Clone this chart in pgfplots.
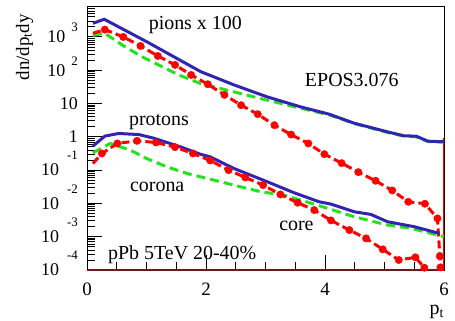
\documentclass[border=0pt]{standalone}
\usepackage{fontspec}
\setmainfont{Liberation Serif}
\usepackage{pgfplots}
\pgfplotsset{compat=1.18}
\definecolor{myblue}{RGB}{50,36,178}
\definecolor{mygreen}{RGB}{40,225,30}
\definecolor{myred}{RGB}{255,0,0}
\definecolor{axred}{RGB}{110,25,25}
\newcommand{\pex}[1]{10\hspace{6bp}\smash{\raisebox{11bp}{\fontsize{13}{13}\selectfont #1}}}
\newcommand{\nex}[1]{10\hspace{8bp}\smash{\raisebox{16bp}{\fontsize{13}{13}\selectfont #1}}\hspace{1bp}}

\begin{document}
\fontsize{20}{24}\selectfont
\begin{tikzpicture}
\useasboundingbox (-87bp,-51bp) rectangle (368bp,270bp);
\begin{axis}[
  at={(0,0)}, anchor=south west,
  scale only axis, width=357bp, height=264bp,
  ymode=log, xmin=0, xmax=6, ymin=1e-4, ymax=8500,
  font=\fontsize{20}{24}\selectfont,
  axis line style={line width=0.9bp},
  every tick/.style={black, line width=0.9bp},
  xtick pos=bottom, ytick pos=left,
  tick align=inside,
  xtick={0,2,4,6}, minor x tick num=3,
  ytick={1e-4,1e-3,1e-2,1e-1,1,10,100,1000},
  yticklabels={\nex{-4},\nex{-3},\nex{-2},\nex{-1},1\hspace{15bp},10\hspace{18bp},\pex{2},\pex{3}},
  minor ytick={2e-4,3e-4,4e-4,5e-4,6e-4,7e-4,8e-4,9e-4,
               2e-3,3e-3,4e-3,5e-3,6e-3,7e-3,8e-3,9e-3,
               2e-2,3e-2,4e-2,5e-2,6e-2,7e-2,8e-2,9e-2,
               0.2,0.3,0.4,0.5,0.6,0.7,0.8,0.9,
               2,3,4,5,6,7,8,9,
               20,30,40,50,60,70,80,90,
               200,300,400,500,600,700,800,900,
               2000,3000,4000,5000,6000,7000,8000},
  major tick length=15bp, minor tick length=8bp,
  yticklabel style={anchor=east, inner sep=0pt, xshift=-9bp, font=\fontsize{18}{20}\selectfont},
  xticklabel style={yshift=-6bp, font=\fontsize{19}{22}\selectfont},
  /pgf/number format/assume math mode=true,
  ylabel={dn/dp\textsubscript{t}dy},
  ylabel style={at={(axis description cs:-0.175,0.995)}, anchor=east, rotate=0, font=\fontsize{19}{22}\selectfont},
  xlabel={p\textsubscript{t}},
  xlabel style={at={(axis description cs:0.98,-0.16)}, anchor=center},
  clip=true,
]
% bottom line (red curves at zero)
\addplot[axred, line width=1.2bp] coordinates {(0,1e-4)(6,1e-4)};
% last bin edge of the core spectrum
\addplot[myred, line width=1.5bp] coordinates {(6.0,1e-6)(6.0,0.9)};

% ---- pions x100 ----
\addplot[mygreen, line width=3bp, dash pattern=on 9bp off 5bp] coordinates {
(0.1,1122)(0.3,1288)(0.6,562)(0.92,257)(1.54,72.4)(1.91,39.8)(2.47,22.4)(3.03,12.6)
(3.59,7.24)(4.07,4.57)(4.49,2.51)(5.05,1.35)(5.33,1.05)(5.53,1.0)(5.73,0.72)(6.0,0.69)};
\addplot[myblue, line width=3bp] coordinates {
(0.1,2570)(0.29,3390)(1.0,724)(1.91,91)(2.47,36.3)(3.03,15.8)(3.59,7.94)(4.07,4.79)
(4.49,2.57)(5.05,1.41)(5.33,1.07)(5.53,1.05)(5.73,0.74)(6.0,0.71)};
\addplot[myred, line width=3bp, dash pattern=on 8bp off 4bp] coordinates {
(0.1,1288)(0.30,1660)(0.61,1000)(0.9,537)(1.19,269)(1.48,145)(1.75,72.4)(2.03,38)
(2.31,18.2)(2.59,8.91)(2.87,4.79)(3.15,2.24)(3.43,1.17)(3.72,0.631)(3.99,0.302)
(4.28,0.162)(4.56,0.087)(4.85,0.0479)(5.13,0.0245)(5.40,0.0112)(5.68,0.00977)
(5.89,0.00355)(5.93,2.6e-4)(5.94,1.2e-4)(5.96,1e-6)};
\addplot[only marks, myred, mark=*, mark size=3.7bp, mark options={solid, line width=0.4bp}] coordinates {
(0.30,1660)(0.61,1000)(0.9,537)(1.19,269)(1.48,145)(1.75,72.4)(2.03,38)
(2.31,18.2)(2.59,8.91)(2.87,4.79)(3.15,2.24)(3.43,1.17)(3.72,0.631)(3.99,0.302)
(4.28,0.162)(4.56,0.087)(4.85,0.0479)(5.13,0.0245)(5.40,0.0112)(5.68,0.00977)
(5.89,0.00355)(5.93,2.6e-4)(5.94,1.2e-4)};

% ---- protons ----
\addplot[mygreen, line width=3bp, dash pattern=on 9bp off 5bp] coordinates {
(0.1,0.331)(0.39,0.631)(0.73,0.398)(1.0,0.224)(1.34,0.126)(1.68,0.0794)(2.02,0.0562)
(2.58,0.0316)(2.92,0.0224)(3.31,0.0178)(3.87,0.00891)(4.49,0.00398)(5.05,0.00224)
(5.45,0.00178)(6.0,0.001)};
\addplot[myblue, line width=3bp] coordinates {
(0.1,0.525)(0.3,1.05)(0.53,1.26)(0.87,1.17)(1.12,0.912)(1.57,0.501)(1.9,0.302)
(2.07,0.251)(2.47,0.112)(3.03,0.0447)(3.48,0.0209)(3.9,0.0112)(4.1,0.00955)
(4.49,0.00562)(4.77,0.00468)(5.05,0.00282)(5.5,0.002)(5.92,0.00126)};
\addplot[myred, line width=3bp, dash pattern=on 8bp off 4bp] coordinates {
(0.1,0.158)(0.25,0.316)(0.51,0.631)(0.84,0.759)(1.16,0.676)(1.48,0.49)(1.78,0.316)
(2.07,0.195)(2.38,0.1)(2.66,0.0603)(2.96,0.0355)(3.25,0.0186)(3.54,0.0105)
(3.82,0.00631)(4.1,0.00309)(4.41,0.00158)(4.69,8.91e-4)(4.97,4.17e-4)(5.24,2.0e-4)
(5.52,2.4e-4)(5.67,1.17e-4)(5.75,1e-6)};
\addplot[only marks, myred, mark=*, mark size=3.7bp, mark options={solid, line width=0.4bp}] coordinates {
(0.25,0.316)(0.51,0.631)(0.84,0.759)(1.16,0.676)(1.48,0.49)(1.78,0.316)
(2.07,0.195)(2.38,0.1)(2.66,0.0603)(2.96,0.0355)(3.25,0.0186)(3.54,0.0105)
(3.82,0.00631)(4.1,0.00309)(4.41,0.00158)(4.69,8.91e-4)(4.97,4.17e-4)(5.24,2.0e-4)
(5.52,2.4e-4)(5.67,1.17e-4)};

\node at (axis cs:1.82,2290) {pions x 100};
\node at (axis cs:4.45,50) {EPOS3.076};
\node at (axis cs:1.21,2.75) {protons};
\node at (axis cs:1.18,0.0316) {corona};
\node at (axis cs:3.52,0.0021) {core};
\node at (axis cs:1.6,2.8e-4) {pPb 5TeV 20-40\%};
\end{axis}
\end{tikzpicture}
\end{document}
